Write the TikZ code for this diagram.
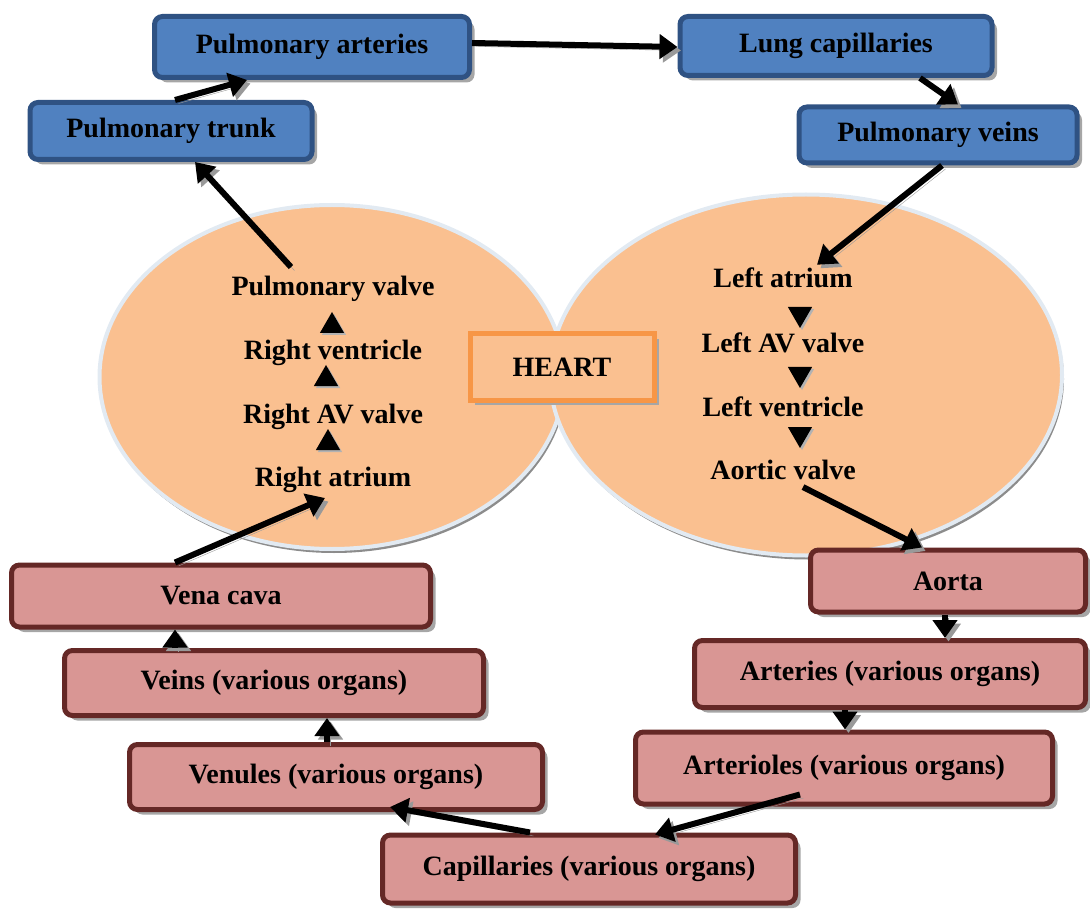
\documentclass[tikz,border=0pt]{standalone}
\usepackage{fontspec}
\setmainfont{Liberation Serif}
\usetikzlibrary{shadows,shapes.geometric,arrows.meta,calc}
\definecolor{bluefill}{HTML}{5081C0}
\definecolor{blueline}{HTML}{2F5283}
\definecolor{pinkfill}{HTML}{D99694}
\definecolor{pinkline}{HTML}{652826}
\definecolor{orfill}{HTML}{FAC090}
\definecolor{orline}{HTML}{F79646}
\definecolor{ellline}{HTML}{E2EAF2}
\begin{document}
\begin{tikzpicture}[x=1pt,y=-1pt,
  every node/.style={font=\bfseries\fontsize{28}{30}\selectfont, text=black},
  shadowed/.style={drop shadow={opacity=1, shadow xshift=5pt,shadow yshift=-5pt,fill=black!35}},
  bluebox/.style={shape=rectangle, rounded corners=8pt, fill=bluefill, draw=blueline, line width=5pt, shadowed, inner sep=0pt},
  pinkbox/.style={shape=rectangle, rounded corners=8pt, fill=pinkfill, draw=pinkline, line width=5pt, shadowed, inner sep=0pt},
  heartbox/.style={shape=rectangle, fill=orfill, draw=orline, line width=5pt, shadowed, inner sep=0pt},
  heart/.style={shape=ellipse, fill=orfill, draw=ellline, line width=4pt, drop shadow={opacity=1, shadow xshift=2pt,shadow yshift=-4pt,fill=black!45}, inner sep=0pt},
  lbl/.style={inner sep=1pt},
  uptri/.style={regular polygon, regular polygon sides=3, fill=black, inner sep=0pt, minimum size=28pt, drop shadow={opacity=1, shadow xshift=2pt,shadow yshift=-2pt,fill=black!30}},
  dntri/.style={uptri, shape border rotate=180},
  arr/.style={line width=6pt, -{Triangle[length=18pt,width=24pt]},
    preaction={draw=black!40, transform canvas={shift={(3.5pt,-3.5pt)}}}},
]
\useasboundingbox (0,0) rectangle (1090,909);

% heart ellipses
\node[heart, minimum width=465pt, minimum height=344pt] (le) at (332,377) {};
\node[heart, minimum width=512pt, minimum height=361pt] (re) at (806,375) {};
\node[heartbox, minimum width=184pt, minimum height=66pt] (hb) at (562,367) {HEART};

% blue boxes
\node[bluebox, minimum width=315pt, minimum height=61pt] (pa) at (312,47) {Pulmonary arteries};
\node[bluebox, minimum width=312pt, minimum height=59pt] (lc) at (836,46) {Lung capillaries};
\node[bluebox, minimum width=282pt, minimum height=57pt] (pt) at (171,131) {Pulmonary trunk};
\node[bluebox, minimum width=278pt, minimum height=56pt] (pv) at (938,135) {Pulmonary veins};

% pink boxes
\node[pinkbox, minimum width=419pt, minimum height=62pt] (vc) at (221,596) {Vena cava};
\node[pinkbox, minimum width=419pt, minimum height=65pt] (vn) at (274,683) {Veins (various organs)};
\node[pinkbox, minimum width=413pt, minimum height=65pt] (vl) at (336,777) {Venules (various organs)};
\node[pinkbox, minimum width=413pt, minimum height=68pt] (cp) at (589,869) {Capillaries (various organs)};
\node[pinkbox, minimum width=275pt, minimum height=62pt] (ao) at (948,581) {Aorta};
\node[pinkbox, minimum width=391pt, minimum height=67pt] (at) at (890,674) {Arteries (various organs)};
\node[pinkbox, minimum width=417pt, minimum height=72pt] (al) at (844,768) {Arterioles (various organs)};

% heart texts
\node[lbl] (pvl) at (333,289) {Pulmonary valve};
\node[lbl] (rv) at (333,353) {Right ventricle};
\node[lbl] (rav) at (333,417) {Right AV valve};
\node[lbl] (ra) at (333,480) {Right atrium};
\node[lbl] (la) at (783,278) {Left atrium};
\node[lbl] (lav) at (783,343) {Left AV valve};
\node[lbl] (lv) at (783,407) {Left ventricle};
\node[lbl] (avl) at (783,470) {Aortic valve};

% small triangles
\node[uptri] (t1) at (332,326) {};
\node[uptri] (t2) at (326,379) {};
\node[uptri] (t3) at (328,443) {};
\node[dntri] (t4) at (800,314) {};
\node[dntri] (t5) at (800,374) {};
\node[dntri] (t6) at (800,434) {};

% connectors
\draw[arr] ([xshift=4pt]pt.north) -- ([xshift=-65pt]pa.south);
\draw[arr] ([yshift=4pt]pa.east) -- ([yshift=-1pt]lc.west);
\draw[arr] ([xshift=84pt]lc.south) -- ([xshift=20pt]pv.north);
\draw[arr] ([xshift=4pt]pv.south) -- ([xshift=34pt,yshift=2pt]la.north);
\draw[arr] ([xshift=-42pt,yshift=8pt]pvl.north) -- ([xshift=24pt]pt.south);
\draw[arr] ([xshift=-46pt]vc.north) -- ([xshift=-8pt,yshift=-4pt]ra.south);
\draw[arr] ([xshift=-99pt]vn.north) -- ([xshift=-46pt]vc.south);
\draw[arr] ([xshift=-9pt]vl.north) -- ([xshift=53pt]vn.south);
\draw[arr] ([xshift=-59pt]cp.north) -- ([xshift=54pt,yshift=5pt]vl.south);
\draw[arr] ([xshift=-44pt,yshift=12pt]al.south) -- ([xshift=66pt,yshift=-2pt]cp.north);
\draw[arr] ([xshift=-45pt]at.south) -- ([xshift=1pt]al.north);
\draw[arr] ([xshift=-3pt]ao.south) -- ([xshift=55pt]at.north);
\draw[arr] ([xshift=20pt,yshift=-6pt]avl.south) -- ([xshift=-26pt]ao.north);
\end{tikzpicture}
\end{document}
